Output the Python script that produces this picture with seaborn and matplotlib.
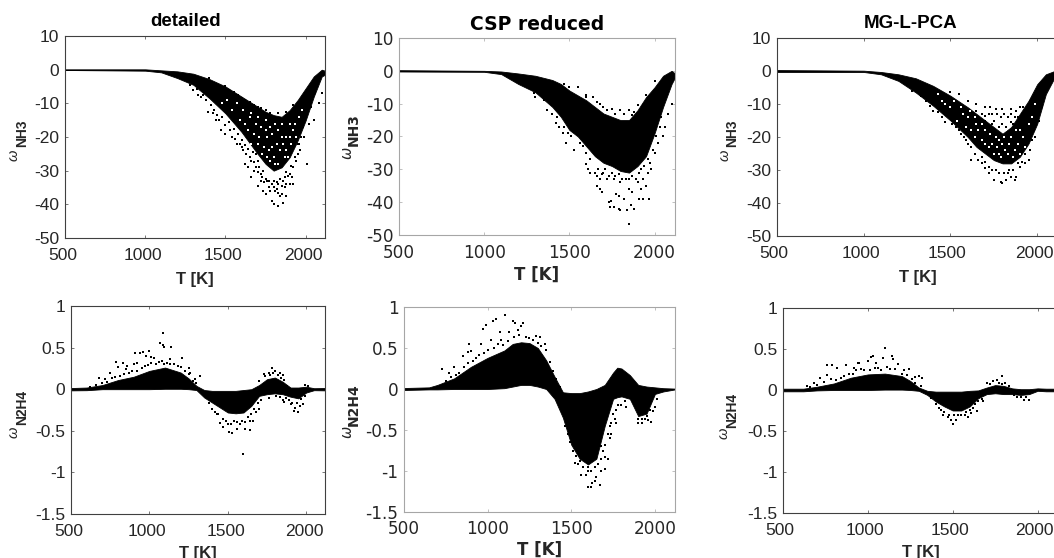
import matplotlib
matplotlib.use('Agg')
import matplotlib.pyplot as plt
from matplotlib.transforms import ScaledTranslation
import seaborn as sns
import pandas as pd

# values: T grid, upper and lower edge of the dense cloud, then the loose points
t_a = [500, 1000, 1100, 1200, 1300, 1400, 1500, 1600, 1700, 1750, 1800, 1850, 1900, 1950, 2000, 2050, 2100, 2120]
hi_a = [0.1, 0.1, -0.2, -0.5, -1.2, -2.8, -5, -8, -11, -12.5, -13.5, -14, -12, -9, -5.5, -2, 0, -0.5]
lo_a = [-0.1, -0.3, -0.8, -2.5, -4.5, -8.5, -13, -18.5, -25, -28, -30, -29, -26, -21, -15, -8, -2, -1.5]
pts_a = [(1790,-39),(1825,-40.5),(1800,-40),(1860,-39.5),(1880,-37.5),(1840,-37.5),(1850,-37),(1830,-36.5),(1820,-35.5),
         (1735,-36),(1750,-37),(1770,-35),(1700,-34.5),(1720,-33),(1680,-30),(1660,-32),(1640,-29),(1650,-26),(1620,-28),
         (1610,-24),(1590,-22),(1570,-22),(1540,-20),(1500,-19),(1470,-18),(1440,-15),(1420,-13),(1390,-12.5),(1350,-8),
         (1330,-7.5),(1300,-6),(1900,-34),(1900,-31),(1920,-34),(1915,-32),(1880,-34),(1870,-35),(1860,-33),(1790,-34),
         (1810,-36),(1760,-33),(1735,-30),(1700,-27),(1690,-25),(1950,-25),(1960,-22),(2005,-28),(1970,-20),(2020,-16),
         (2050,-15),(2080,-10),(2100,-7),(1600,-8.5),(1650,-9.5),(1700,-11),(1720,-11.5),(1680,-10.5),(1550,-6.5),(1500,-5),(1400,-2.5),
         (1250,-3.2),(1280,-4.5),(1320,-5.8),(1360,-7.5),(1380,-9),(1410,-10.5),(1430,-12),(1450,-13.5),(1460,-15),(1480,-14),
         (1500,-16.5),(1520,-15.5),(1530,-18),(1550,-17.5),(1560,-20.5),(1580,-19),(1600,-21),(1600,-23),(1620,-22.5),(1630,-25),
         (1640,-23.5),(1660,-27),(1670,-24.5),(1680,-27.5),(1690,-29),(1700,-30.5),(1710,-29),(1720,-31),(1730,-32),(1740,-33.5),
         (1750,-32.5),(1770,-33),(1780,-36),(1800,-33),(1800,-35),(1820,-33.5),(1830,-34),(1840,-32.5),(1850,-34.5),(1870,-32),
         (1880,-30.5),(1890,-31.5),(1910,-28.5),(1920,-29),(1930,-26),(1940,-27),(1950,-22),(1965,-24),(1980,-17),(1990,-20),
         (2010,-13),(2030,-11),(2060,-7),(1450,-4.5),(1520,-6),(1580,-7.5),(1620,-9),(1750,-12),(1780,-13),(1830,-13),(1880,-12.5),(1920,-10.5)]
gaps_a = [(1760,-20),(1790,-23),(1850,-20),(1800,-26),(1720,-17),(1650,-14),(1680,-19),(1900,-20),(1760,-26),(1620,-16),
          (1830,-28),(1880,-24),(1920,-18),(1700,-22),(1850,-16),(1780,-17),(1740,-23),(1820,-22),(1870,-26),(1590,-15),
          (1540,-12),(1570,-10),(1610,-12),(1640,-18),(1660,-22),(1690,-16),(1710,-20),(1730,-25),(1750,-18),(1770,-24),
          (1790,-19),(1810,-16),(1810,-28),(1840,-24),(1860,-22),(1880,-20),(1890,-26),(1910,-22),(1930,-16),(1940,-20),
          (1960,-14),(1975,-12),(1780,-27),(1750,-15),(1830,-18),(1480,-10),(1510,-9),(1660,-13),(1700,-14),(1900,-16)]

t_b = [500, 1000, 1100, 1200, 1300, 1400, 1450, 1500, 1550, 1600, 1650, 1700, 1750, 1800, 1850, 1900, 1950, 2000, 2050, 2100, 2120]
hi_b = [0.2, 0, -0.2, -0.8, -1.5, -2.8, -4, -6, -7.5, -9, -11, -13, -14, -15, -15, -12, -8, -5, -1.5, 0, -0.8]
lo_b = [-0.2, -0.3, -1, -4, -6.5, -11, -14, -18, -20, -23, -26, -28, -29, -30.5, -31, -29, -26, -19, -11, -4, -2]
pts_b = [(1850,-46.5),(1790,-42),(1800,-42.5),(1840,-42.5),(1860,-41),(1880,-42),(1740,-41.5),(1760,-41.5),(1730,-40),
         (1745,-39.5),(1820,-39),(1790,-38),(1775,-37.5),(1690,-37),(1660,-35),(1680,-36),(1910,-39),(1930,-39),(1970,-39),
         (1920,-36),(1950,-35),(1870,-37),(1850,-36),(1900,-34),(1930,-33),(1610,-30),(1600,-28.5),(1620,-31),(1660,-32),
         (1680,-33),(1700,-31),(1720,-33),(1760,-33),(1800,-34),(1830,-33),(1960,-31),(1980,-30),(1975,-28),(2000,-25),
         (2020,-22),(2050,-20),(2060,-17),(2080,-13),(2100,-10),(1530,-24),(1480,-22),(1460,-19),(1440,-17),(1420,-16),
         (1370,-12),(1300,-8),(1290,-6.8),(1640,-8),(1600,-7.5),(1550,-5),(1500,-5),(1700,-11),(1750,-11.5),(1800,-12),
         (1850,-12),(1880,-12.5),(1930,-10.5),(1950,-7.5),
         (1650,-31),(1670,-30),(1690,-31.5),(1710,-30),(1730,-32),(1750,-31),(1770,-32),(1790,-31.5),(1810,-33),(1850,-33),
         (1870,-32),(1890,-33),(1910,-31),(1920,-30),(1940,-29),(1960,-27),(1990,-24),(2010,-20),(2030,-17),(2040,-14),
         (1620,-27),(1600,-25),(1580,-23),(1560,-22),(1510,-20),(1490,-19),(1470,-17),(1430,-14),(1400,-13),(1350,-9),
         (1680,-10),(1720,-12),(1770,-13),(1820,-13),(1870,-13.5),(1900,-10.5),(1470,-4),(1600,-8),(1660,-9.5),(2000,-3)]

t_c = [500, 1000, 1100, 1200, 1300, 1400, 1500, 1600, 1650, 1700, 1750, 1800, 1850, 1900, 1950, 2000, 2050, 2100, 2120]
hi_c = [0.28, 0.1, -0.3, -1, -2.2, -4.5, -7.5, -11, -13, -15, -17, -19, -17, -13, -9, -4, -1, 0, 0]
lo_c = [-0.28, -0.3, -1, -3, -6.5, -10.5, -15, -20, -23, -25, -27, -28, -28, -26, -22, -16, -7, -2, -1]
pts_c = [(1800,-34),(1790,-33.5),(1750,-33),(1720,-31),(1740,-30),(1700,-29.5),(1680,-28),(1620,-27),(1640,-25),(1600,-22),
         (1580,-20),(1560,-19),(1530,-17),(1470,-15.5),(1450,-14),(1400,-12),(1360,-9),(1820,-33),(1850,-32),(1870,-33),
         (1880,-32),(1830,-31),(1900,-29),(1930,-28),(1950,-27),(1960,-24),(1990,-20),(1700,-11),(1730,-11),(1760,-11.5),
         (1800,-11.5),(1850,-11.5),(1880,-12),(1900,-11),(1920,-11),(1940,-13),(1960,-9),(1720,-13),(1770,-13),(1830,-14),
         (1870,-14),(1680,-13),(1650,-10),(1600,-9),(1550,-7),(1500,-6.3),(1700,-13.5),(1750,-15),(1800,-16),(1850,-15.5),
         (1660,-27),(1680,-26),(1700,-27.5),(1720,-29),(1760,-30),(1780,-31),(1810,-31),(1840,-30),(1860,-30),(1890,-28),
         (1910,-27.5),(1930,-25),(1970,-21),(1980,-18),(2010,-15),(2030,-11),(1620,-23),(1590,-21),(1550,-18),(1510,-16),
         (1430,-12.5),(1380,-10.5),(1330,-7.5),(1280,-6),(1650,-12),(1700,-15),(1740,-13),(1790,-14),(1810,-13),(1850,-13),
         (1890,-14),(1910,-13),(1740,-16),(1780,-17),(1820,-17),(1860,-16)]
gaps_c = [(1700,-18),(1760,-20),(1800,-22),(1850,-20),(1890,-22),(1650,-16),(1600,-14),(1720,-23),(1780,-25),(1830,-25),
          (1880,-18),(1920,-20),(1950,-16),(1570,-13),(1500,-11),(1540,-15),(1450,-9),(1620,-18),(1680,-21),(1740,-22),
          (1820,-18),(1860,-26),(1900,-25),(1430,-7),(1470,-10),(1520,-9),(1560,-11),(1590,-17),(1640,-20),(1660,-18),
          (1700,-22),(1730,-19),(1770,-23),(1790,-26),(1810,-20),(1840,-22),(1870,-24),(1900,-18),(1930,-23),(1970,-14),
          (1990,-10),(1640,-14),(1610,-12),(1680,-16),(1750,-25),(1815,-24),(1780,-21)]

t_d = [500, 600, 700, 800, 900, 1000, 1100, 1200, 1250, 1300, 1350, 1400, 1450, 1500, 1550, 1600, 1650, 1700, 1750, 1800, 1850, 1900, 1950, 2000, 2050, 2120]
hi_d = [0.014, 0.02, 0.05, 0.11, 0.15, 0.22, 0.26, 0.2, 0.13, 0.04, -0.01, -0.02, -0.02, -0.02, -0.02, -0.01, 0, 0.05, 0.12, 0.14, 0.09, 0.02, 0.02, 0.03, 0.012, 0.014]
lo_d = [-0.014, -0.012, 0, 0, 0, 0, 0.005, 0.005, 0, -0.01, -0.1, -0.16, -0.22, -0.28, -0.29, -0.28, -0.2, -0.08, -0.06, -0.05, -0.06, -0.09, -0.11, -0.04, -0.012, -0.014]
pts_d = [(1085,0.68),(1065,0.55),(1085,0.53),(1095,0.51),(1140,0.51),(960,0.45),(940,0.44),(1000,0.46),(910,0.43),(980,0.4),
         (1030,0.37),(1010,0.39),(1210,0.38),(1130,0.36),(1080,0.34),(790,0.33),(830,0.32),(800,0.27),(860,0.28),(850,0.24),
         (900,0.3),(920,0.32),(750,0.2),(680,0.14),(720,0.12),(1250,0.25),(1260,0.2),(1320,0.16),(1290,0.12),(1780,0.26),
         (1760,0.2),(1800,0.22),(1830,0.2),(1850,0.17),(1730,0.18),(1700,0.1),(1595,-0.78),(1530,-0.53),(1510,-0.52),
         (1640,-0.49),(1610,-0.48),(1560,-0.48),(1470,-0.46),(1450,-0.41),(1660,-0.38),(1700,-0.24),(1680,-0.28),(1640,-0.38),
         (1500,-0.42),(1580,-0.42),(1430,-0.3),(1950,-0.28),(1920,-0.26),(1930,-0.22),(1980,-0.18),(1960,-0.2),(1900,-0.18),
         (1850,-0.13),(1860,-0.15),(1760,-0.1),
         (620,0.03),(660,0.05),(700,0.08),(730,0.09),(760,0.13),(780,0.15),(810,0.16),(840,0.18),(870,0.2),(890,0.22),
         (920,0.22),(950,0.25),(970,0.28),(990,0.29),(1010,0.31),(1040,0.3),(1060,0.33),(1090,0.3),(1110,0.32),(1130,0.3),
         (1160,0.3),(1180,0.28),(1200,0.27),(1230,0.22),(1250,0.18),(1280,0.1),(1300,0.07),(1380,-0.17),(1400,-0.24),
         (1420,-0.27),(1440,-0.3),(1470,-0.36),(1490,-0.38),(1520,-0.42),(1540,-0.38),(1560,-0.4),(1590,-0.38),(1610,-0.4),
         (1630,-0.33),(1650,-0.3),(1670,-0.24),(1690,-0.17),(1710,-0.13),(1740,0.16),(1770,0.17),(1790,0.19),(1820,0.17),
         (1840,0.13),(1860,0.11),(1880,0.04),(1810,-0.08),(1830,-0.09),(1870,-0.1),(1890,-0.13),(1910,-0.16),(1940,-0.16),
         (1970,-0.12),(1990,-0.08),(1990,0.05),(2010,0.04)]

t_e = [500, 650, 700, 800, 900, 1000, 1100, 1150, 1200, 1250, 1300, 1350, 1400, 1450, 1500, 1550, 1600, 1650, 1700, 1750, 1775, 1800, 1850, 1900, 1950, 2000, 2050, 2120]
hi_e = [0.012, 0.02, 0.05, 0.13, 0.27, 0.38, 0.47, 0.55, 0.57, 0.56, 0.5, 0.35, 0.15, -0.04, -0.05, -0.05, -0.03, 0, 0.05, 0.2, 0.26, 0.25, 0.17, 0.05, 0.03, 0.02, 0.01, 0.005]
lo_e = [-0.012, -0.005, -0.005, 0, 0, 0, 0.01, 0.03, 0.05, 0.05, 0.03, 0, -0.12, -0.35, -0.68, -0.85, -0.92, -0.85, -0.45, -0.12, -0.1, -0.09, -0.12, -0.33, -0.3, -0.06, -0.03, -0.005]
pts_e = [(1105,0.9),(1150,0.83),(1165,0.8),(1050,0.85),(1030,0.83),(990,0.78),(970,0.73),(1210,0.8),(1200,0.77),(1180,0.72),
         (1130,0.7),(1075,0.7),(1290,0.65),(1310,0.63),(890,0.55),(960,0.55),(850,0.4),(880,0.45),(800,0.27),(770,0.2),
         (725,0.24),(900,0.46),(1020,0.6),(1080,0.6),(1250,0.62),(1350,0.48),(1340,0.55),(1600,-1.2),(1620,-1.2),(1670,-1.17),
         (1640,-1.12),(1560,-1.05),(1590,-1.05),(1650,-1.07),(1680,-1),(1700,-0.97),(1720,-0.85),(1625,-1.15),(1600,-1),
         (1520,-0.9),(1540,-0.92),(1700,-0.83),(1680,-0.7),(1740,-0.55),(1730,-0.6),(1770,-0.42),(1730,-0.45),(1760,-0.37),
         (1800,-0.2),(1830,-0.22),(1880,-0.15),(1920,-0.42),(1900,-0.42),(1960,-0.38),(1975,-0.4),(1990,-0.27),(2000,-0.22),
         (1940,-0.36),(2010,-0.12),(1860,-0.1),(1770,-0.26),
         (750,0.1),(780,0.15),(810,0.17),(830,0.2),(860,0.27),(880,0.32),(910,0.34),(930,0.38),(950,0.42),(980,0.44),
         (1000,0.47),(1040,0.5),(1060,0.55),(1090,0.54),(1120,0.58),(1160,0.64),(1190,0.66),(1230,0.63),(1270,0.6),(1300,0.56),
         (1320,0.52),(1370,0.33),(1390,0.22),(1410,0.12),(1430,0.03),(1460,-0.45),(1480,-0.55),(1490,-0.65),(1510,-0.75),
         (1530,-0.82),(1550,-0.88),(1570,-0.95),(1600,-0.95),(1620,-1),(1640,-0.95),(1660,-0.92),(1680,-0.85),(1690,-0.76),
         (1700,-0.68),(1720,-0.55),(1740,-0.42),(1750,-0.3),(1780,-0.2),(1820,-0.15),(1900,-0.36),(1920,-0.36),(1950,-0.33),(1970,-0.25)]

t_f = [500, 620, 700, 800, 900, 1000, 1100, 1200, 1250, 1300, 1350, 1400, 1450, 1500, 1550, 1600, 1650, 1700, 1750, 1800, 1850, 1900, 1950, 2000, 2050, 2120]
hi_f = [0.016, 0.016, 0.04, 0.08, 0.15, 0.19, 0.2, 0.17, 0.11, 0.03, -0.01, -0.02, -0.02, -0.02, -0.02, -0.01, -0.005, 0.03, 0.06, 0.05, 0.02, 0.01, 0.01, 0.02, 0.016, 0.016]
lo_f = [-0.016, -0.016, -0.005, 0, 0, 0, 0.005, 0.005, 0, -0.01, -0.06, -0.14, -0.2, -0.25, -0.25, -0.2, -0.1, -0.05, -0.04, -0.05, -0.05, -0.06, -0.05, -0.01, -0.016, -0.016]
pts_f = [(1100,0.51),(1030,0.42),(1020,0.4),(1140,0.41),(1150,0.38),(1090,0.39),(760,0.31),(790,0.3),(820,0.27),(1180,0.32),
         (940,0.33),(950,0.33),(1000,0.35),(870,0.3),(920,0.27),(1050,0.33),(1210,0.25),(1240,0.26),(760,0.18),(720,0.15),
         (680,0.09),(640,0.05),(1280,0.16),(1320,0.15),(1300,0.17),(1500,-0.41),(1490,-0.37),(1520,-0.36),(1440,-0.3),
         (1470,-0.33),(1590,-0.33),(1610,-0.28),(1640,-0.25),(1420,-0.22),(1570,-0.3),(1680,-0.14),(1790,0.17),(1740,0.11),
         (1700,0.09),(1760,0.12),(1810,0.09),(1880,-0.09),(1920,-0.12),(1950,-0.12),(1900,-0.08),(1620,-0.22),
         (660,0.04),(700,0.06),(740,0.1),(780,0.13),(810,0.12),(840,0.15),(860,0.17),(890,0.2),(910,0.2),(930,0.24),
         (960,0.26),(980,0.24),(1010,0.25),(1040,0.27),(1060,0.27),(1080,0.25),(1110,0.28),(1130,0.26),(1160,0.26),(1200,0.2),
         (1230,0.18),(1260,0.14),(1280,0.09),(1310,0.05),(1370,-0.1),(1400,-0.17),(1430,-0.24),(1450,-0.27),(1480,-0.3),
         (1510,-0.31),(1530,-0.3),(1550,-0.3),(1580,-0.27),(1600,-0.24),(1630,-0.17),(1650,-0.13),(1670,-0.11),(1720,0.07),
         (1770,0.08),(1790,0.07),(1830,0.05),(1860,-0.06),(1930,-0.08)]

titles = ['detailed', 'CSP reduced', 'MG-L-PCA']
xticks = [500, 1000, 1500, 2000]
yticks_top = [-50, -40, -30, -20, -10, 0, 10]
yticks_bot = [-1.5, -1, -0.5, 0, 0.5, 1]
ylabels_bot = ['-1.5', '-1', '-0.5', '0', '0.5', '1']

W, H = 1054, 558
sns.set_theme(style='ticks')
fig = plt.figure(figsize=(W / 100, H / 100), dpi=100, facecolor='white')

def panel(box, t, hi, lo, pts, gaps, font, fs, edge, yticks, yticklabs, ylim, ms, species, lab_xy, shift, xpad, labelpad, title=None, title_x=0, title_y=0):
    left, top, right, bottom = box
    ax = fig.add_axes([left / W, 1 - bottom / H, (right - left) / W, (bottom - top) / H])
    ax.fill_between(t, lo, hi, color='black', lw=0.6)
    df = pd.DataFrame(pts, columns=['T', 'w'])
    sns.scatterplot(data=df, x='T', y='w', ax=ax, color='black', marker='s', s=ms, linewidth=0, legend=False)
    if gaps:
        df2 = pd.DataFrame(gaps, columns=['T', 'w'])
        sns.scatterplot(data=df2, x='T', y='w', ax=ax, color='white', marker='s', s=0.9, linewidth=0, legend=False)
    ax.set_xlim(500, 2120)
    ax.set_ylim(*ylim)
    ax.set_xticks(xticks)
    ax.set_xticklabels([str(v) for v in xticks], family=font, fontsize=fs, color='#262626')
    ax.set_yticks(yticks)
    ax.set_yticklabels(yticklabs, family=font, fontsize=fs, color='#262626')
    ax.tick_params(direction='in', length=2.2, width=0.5, color=edge, top=True, right=True, pad=4)
    ax.tick_params(axis='x', pad=xpad)
    # the tick labels sit a little left of their ticks in the original
    for lab in ax.get_xticklabels():
        lab.set_transform(lab.get_transform() + ScaledTranslation(shift / 100, 0, fig.dpi_scale_trans))
    for s in ax.spines.values():
        s.set_visible(True)
        s.set_linewidth(0.8)
        s.set_color(edge)
    ax.set_xlabel('T [K]', family=font, fontsize=12, fontweight='bold', color='#262626', labelpad=labelpad)
    ax.set_ylabel('')
    # omega and the bold species name are two texts, the name is larger than a normal subscript
    wx, wy, sx, sy = lab_xy
    fig.text(wx / W, 1 - wy / H, '\u03c9', family=font, style='italic', fontsize=10.5, rotation=90, ha='center', va='center', color='#262626')
    fig.text(sx / W, 1 - sy / H, species, family=font, fontweight='bold', fontsize=10, rotation=90, ha='center', va='center', color='#262626')
    if title:
        fig.text(title_x / W, 1 - title_y / H, title, family=font, fontsize=13.5, fontweight='bold', ha='center', va='center', color='black')
    return ax

sans = 'Liberation Sans'
dejavu = 'DejaVu Sans'
top_tl = [str(v) for v in yticks_top]

panel((65, 36, 325, 238), t_a, hi_a, lo_a, pts_a, gaps_a, sans, 12.5, '#404040', yticks_top, top_tl, (-50, 10), 1.8, 'NH3',
      (14, 155, 22, 133), -2, 7.5, 6, titles[0], 186, 22)
panel((399, 38, 675, 235), t_b, hi_b, lo_b, pts_b, None, dejavu, 12.2, '#a6a6a6', yticks_top, top_tl, (-50, 10), 3, 'NH3',
      (347, 153, 354, 130), 0, 6.5, 3, titles[1], 537, 24)
panel((777, 38, 1058, 236), t_c, hi_c, lo_c, pts_c, gaps_c, sans, 12.5, '#404040', yticks_top, top_tl, (-50, 10), 1.8, 'NH3',
      (725, 155, 732, 133), -3, 7.5, 6.5, titles[2], 911, 24)
panel((71, 306, 325, 514), t_d, hi_d, lo_d, pts_d, None, sans, 12.5, '#404040', yticks_bot, ylabels_bot, (-1.5, 1), 1.8, 'N2H4',
      (14, 432, 22, 407), -2, 7, 5, )
panel((404, 307, 675, 512), t_e, hi_e, lo_e, pts_e, None, dejavu, 12.2, '#a6a6a6', yticks_bot, ylabels_bot, (-1.5, 1), 3, 'N2H4',
      (347, 432, 354, 405), 0, 6, 2)
panel((783, 308, 1058, 513), t_f, hi_f, lo_f, pts_f, None, sans, 12.5, '#404040', yticks_bot, ylabels_bot, (-1.5, 1), 1.8, 'N2H4',
      (724, 433, 732, 410), -3, 7, 5)

fig.savefig('out.png', dpi=100)
